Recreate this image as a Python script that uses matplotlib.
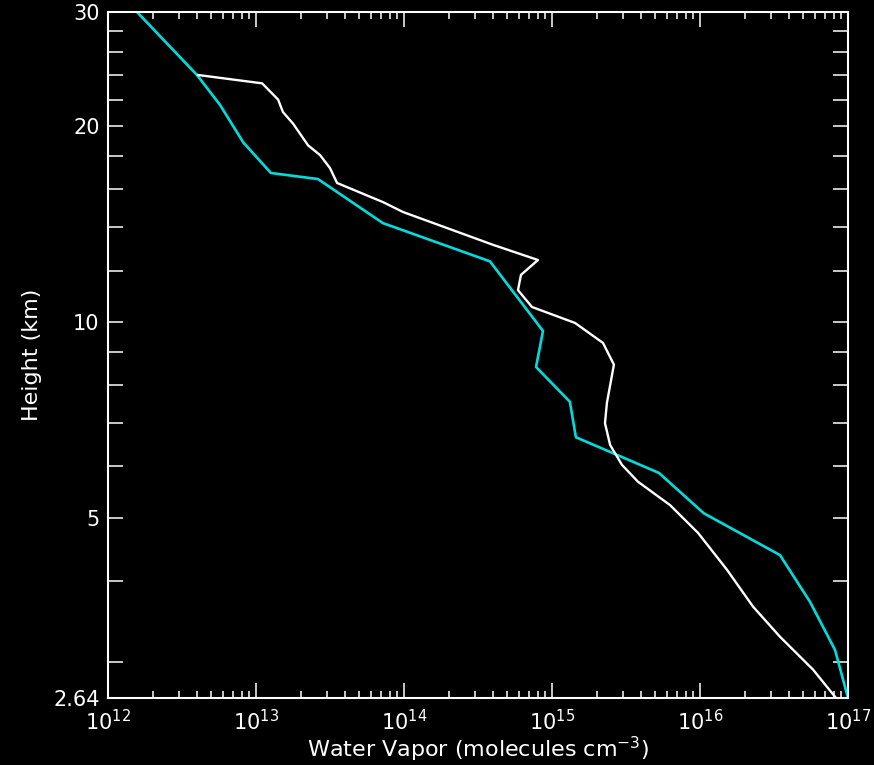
import numpy as np
import matplotlib
matplotlib.use("Agg")
import matplotlib.pyplot as plt
from matplotlib.ticker import FixedLocator, FixedFormatter, NullFormatter

plt.rcParams['font.family'] = ['DejaVu Sans']
plt.rcParams['mathtext.default'] = 'regular'

# profile 1 (cyan): number density vs height
cyan_density = [1.57e12, 3.99e12, 5.7e12, 8.2e12, 1.26e13, 2.62e13, 7.2e13, 3.81e14,
                8.69e14, 7.8e14, 1.32e15, 1.45e15, 5.28e15, 1.06e16, 3.47e16,
                5.54e16, 8.17e16, 1.0e17]
cyan_height = [30.0, 24.0, 21.6, 18.9, 16.96, 16.6, 14.2, 12.4,
               9.69, 8.53, 7.54, 6.65, 5.86, 5.08, 4.38,
               3.71, 3.13, 2.64]

# profile 2 (white)
white_density = [4.05e12, 1.10e13, 1.41e13, 1.52e13, 1.78e13, 2.25e13, 2.71e13, 3.16e13,
                 3.53e13, 7.2e13, 9.85e13, 3.99e14, 8.04e14, 6.17e14, 5.89e14, 7.32e14,
                 1.43e15, 2.21e15, 2.62e15, 2.35e15, 2.28e15, 2.47e15, 2.97e15, 3.81e15,
                 6.27e15, 9.69e15, 1.52e16, 2.28e16, 3.47e16, 5.8e16, 8.3e16]
white_height = [24.0, 23.3, 22.0, 21.05, 20.2, 18.7, 18.07, 17.26,
                16.37, 15.3, 14.77, 13.15, 12.46, 11.82, 11.2, 10.55,
                9.97, 9.29, 8.6, 7.51, 6.99, 6.47, 6.03, 5.68,
                5.23, 4.74, 4.16, 3.65, 3.28, 2.92, 2.64]

x_major = [1e12, 1e13, 1e14, 1e15, 1e16, 1e17]
x_labels = ['$10^{12}$', '$10^{13}$', '$10^{14}$', '$10^{15}$', '$10^{16}$', '$10^{17}$']
y_ticks = [3, 4, 5, 6, 7, 8, 9, 10, 12, 14, 16, 18, 20, 22, 24, 26, 28, 30]
y_labeled = {5: '5', 10: '10', 20: '20', 30: '30'}

fig = plt.figure(figsize=(8.74, 7.65), dpi=100)
fig.patch.set_facecolor('black')
ax = fig.add_axes([108 / 874, 1 - 698 / 765, 740 / 874, 686 / 765])
ax.set_facecolor('black')

ax.plot(white_density, white_height, color='white', lw=1.7, zorder=3)
ax.plot(cyan_density, cyan_height, color='#00dcdc', lw=1.9, zorder=2)

ax.set_xscale('log')
ax.set_yscale('log')
ax.set_xlim(1e12, 1e17)
ax.set_ylim(2.64, 30)

ax.xaxis.set_major_locator(FixedLocator(x_major))
ax.xaxis.set_major_formatter(FixedFormatter(x_labels))
minors = [m * 10.0 ** d for d in range(12, 17) for m in range(2, 10)]
ax.xaxis.set_minor_locator(FixedLocator(minors))
ax.xaxis.set_minor_formatter(NullFormatter())

yt = [2.64] + y_ticks
ax.yaxis.set_major_locator(FixedLocator(yt))
ax.yaxis.set_major_formatter(FixedFormatter(['2.64'] + [y_labeled.get(v, '') for v in y_ticks]))
ax.yaxis.set_minor_locator(FixedLocator([]))

ax.tick_params(axis='x', which='major', direction='in', length=11, width=1.1,
               top=True, bottom=True, colors='white', labelsize=15, pad=8)
ax.tick_params(axis='x', which='minor', direction='in', length=5, width=1.1,
               top=True, bottom=True, colors='white')
ax.tick_params(axis='y', which='major', direction='in', length=11, width=1.1,
               left=True, right=True, colors='white', labelsize=15, pad=6)

for s in ax.spines.values():
    s.set_color('white')
    s.set_linewidth(1.5)

ax.set_xlabel('Water Vapor (molecules cm$^{-3}$)', color='white', fontsize=16, labelpad=0)
ax.set_ylabel('Height (km)', color='white', fontsize=16, labelpad=8)

fig.savefig('out.png', dpi=100, facecolor='black')
